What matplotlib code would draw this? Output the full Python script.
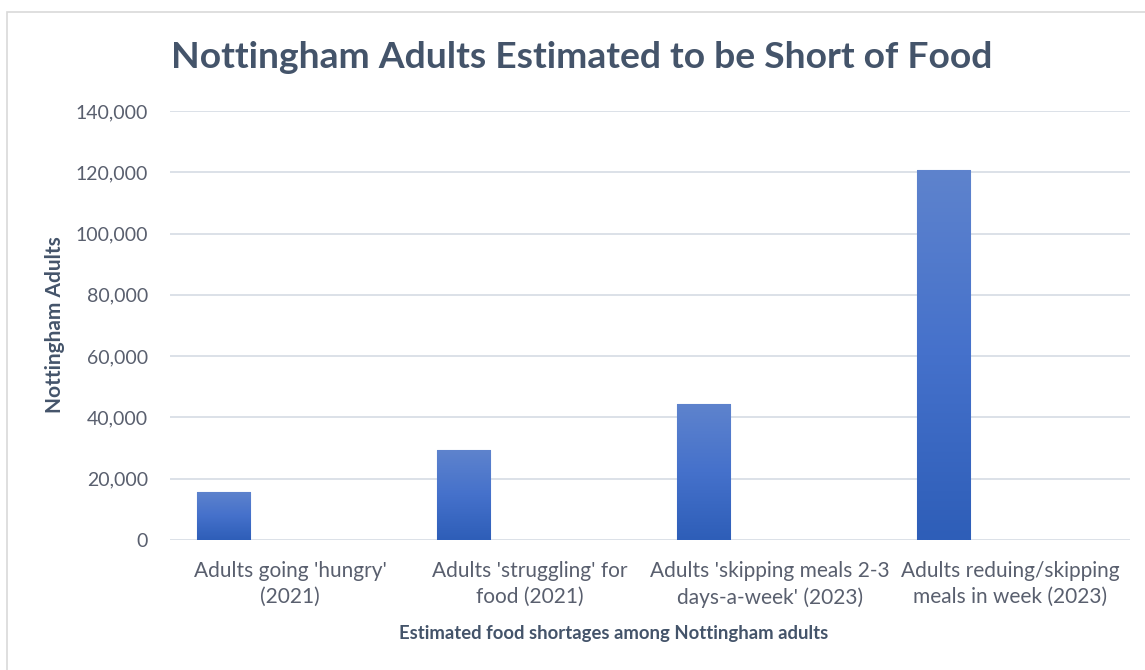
import numpy as np
import matplotlib
matplotlib.use("Agg")
from matplotlib import pyplot as plt
from matplotlib.colors import LinearSegmentedColormap
from matplotlib.patches import Rectangle
from matplotlib.ticker import FuncFormatter

categories = ["Adults going 'hungry'\n(2021)",
              "Adults 'struggling' for\nfood (2021)",
              "Adults 'skipping meals 2-3\ndays-a-week' (2023)",
              "Adults reduing/skipping\nmeals in week (2023)"]
adults = [15700, 29300, 44300, 120700]
yticks = [0, 20000, 40000, 60000, 80000, 100000, 120000, 140000]

plt.rcParams['font.family'] = ['Lato', 'DejaVu Sans']
title_col = '#44546A'
text_col = '#595F6E'
grid_col = '#D9DEE6'

fig = plt.figure(figsize=(11.45, 6.7), dpi=100)
# light border around chart (right/bottom run off the picture)
fig.patches.append(Rectangle((7/1145, -0.05), 1.1, 1 - 12/670 + 0.05, transform=fig.transFigure,
                             fill=False, edgecolor='#D9D9D9', lw=1.2))

ax = fig.add_axes([170/1145, 130/670, 960/1145, 429/670])

x = np.arange(len(categories))
offset = -0.277
bars = ax.bar(x + offset, adults, width=0.222, color='#4472C4', edgecolor='#7C9BD9', lw=0.8, zorder=2)

cmap = LinearSegmentedColormap.from_list('bar', ['#2E5EB8', '#4571CB', '#5E83CD'])
grad = np.linspace(0, 1, 256).reshape(-1, 1)
for b in bars:
	x0 = b.get_x()
	im = ax.imshow(grad, extent=[x0, x0 + b.get_width(), 0, b.get_height()], origin='lower',
	               aspect='auto', cmap=cmap, zorder=2.5)
	im.set_clip_path(b)

ax.set_xlim(-0.5, 3.5)
ax.set_ylim(0, 140000)
ax.set_yticks(yticks)
ax.yaxis.set_major_formatter(FuncFormatter(lambda v, p: f'{int(v):,}'))
ax.set_xticks(x)
ax.set_xticklabels(categories, fontsize=15, color=text_col, linespacing=1.4)
ax.tick_params(axis='y', labelsize=14, colors=text_col, length=0, pad=16)
ax.tick_params(axis='x', length=0, pad=15)
ax.grid(axis='y', color=grid_col, lw=1.3, zorder=0)
for s in ax.spines.values():
	s.set_visible(False)

fig.text(55/1145, 1 - 325/670, 'Nottingham Adults', rotation=90, ha='center', va='center',
         fontsize=15, fontweight='bold', color=title_col)
fig.text(614/1145, 1 - 633/670, 'Estimated food shortages among Nottingham adults', ha='center', va='center',
         fontsize=13.3, fontweight='bold', color=title_col)
fig.text(582/1145, 1 - 58/670, 'Nottingham Adults Estimated to be Short of Food', ha='center', va='center',
         fontsize=26.8, fontweight='bold', color=title_col)

plt.savefig('out.png', dpi=100)
